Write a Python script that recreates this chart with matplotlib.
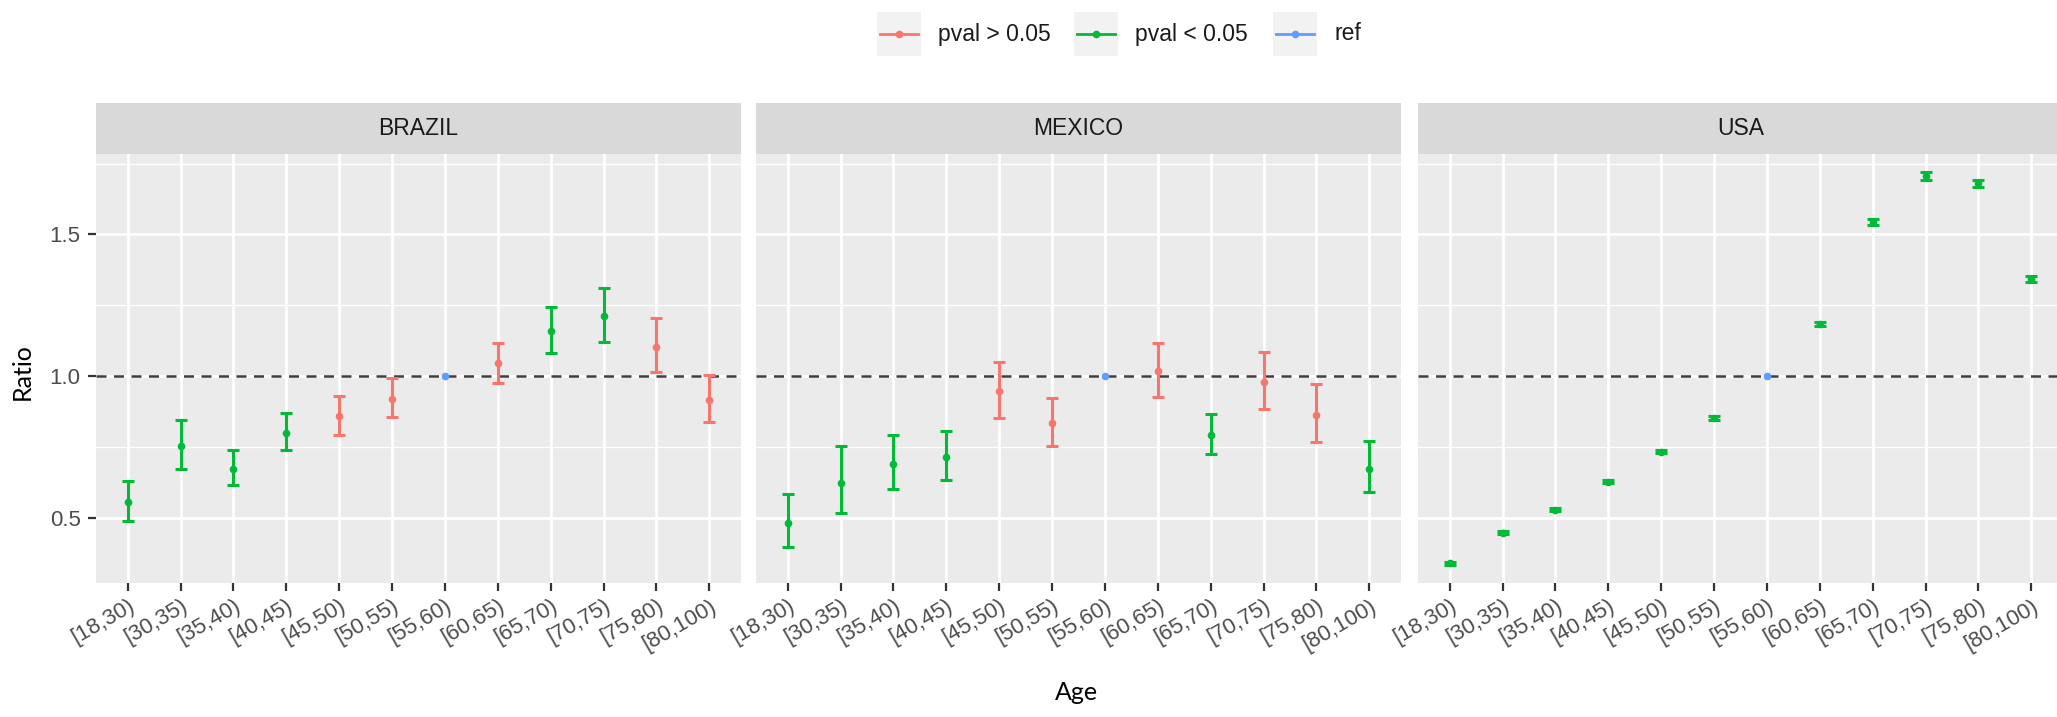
import numpy as np
import matplotlib
matplotlib.use('Agg')
import matplotlib.pyplot as plt
from matplotlib.patches import Rectangle
from matplotlib.ticker import MultipleLocator, FormatStrFormatter

plt.rcParams['font.family'] = ['Liberation Sans', 'DejaVu Sans']

# data
age_groups = ['[18,30)', '[30,35)', '[35,40)', '[40,45)', '[45,50)', '[50,55)',
              '[55,60)', '[60,65)', '[65,70)', '[70,75)', '[75,80)', '[80,100)']
countries = ['BRAZIL', 'MEXICO', 'USA']

brazil_ratio = [0.557, 0.752, 0.674, 0.798, 0.858, 0.918, 1.0, 1.046, 1.160, 1.213, 1.103, 0.915]
brazil_lower = [0.489, 0.674, 0.617, 0.738, 0.794, 0.855, 1.0, 0.975, 1.082, 1.121, 1.014, 0.837]
brazil_upper = [0.631, 0.844, 0.738, 0.869, 0.929, 0.993, 1.0, 1.117, 1.245, 1.312, 1.206, 1.004]
brazil_status = ['pval < 0.05'] * 4 + ['pval > 0.05'] * 2 + ['ref', 'pval > 0.05'] + \
                ['pval < 0.05'] * 2 + ['pval > 0.05'] * 2

mexico_ratio = [0.482, 0.624, 0.691, 0.716, 0.947, 0.833, 1.0, 1.018, 0.791, 0.979, 0.862, 0.674]
mexico_lower = [0.397, 0.518, 0.600, 0.635, 0.851, 0.755, 1.0, 0.926, 0.727, 0.883, 0.766, 0.592]
mexico_upper = [0.585, 0.752, 0.794, 0.805, 1.050, 0.922, 1.0, 1.117, 0.867, 1.085, 0.972, 0.770]
mexico_status = ['pval < 0.05'] * 4 + ['pval > 0.05'] * 2 + ['ref', 'pval > 0.05', 'pval < 0.05'] + \
                ['pval > 0.05'] * 2 + ['pval < 0.05']

usa_ratio = [0.340, 0.447, 0.528, 0.628, 0.734, 0.851, 1.0, 1.184, 1.543, 1.706, 1.681, 1.343]
usa_lower = [0.335, 0.442, 0.523, 0.622, 0.728, 0.844, 1.0, 1.176, 1.532, 1.693, 1.668, 1.332]
usa_upper = [0.345, 0.452, 0.533, 0.634, 0.740, 0.858, 1.0, 1.192, 1.554, 1.719, 1.694, 1.354]
usa_status = ['pval < 0.05'] * 6 + ['ref'] + ['pval < 0.05'] * 5

status_order = ['pval > 0.05', 'pval < 0.05', 'ref']
status_colors = ['#F8766D', '#00BA38', '#619CFF']

panels = [
    (brazil_ratio, brazil_lower, brazil_upper, brazil_status),
    (mexico_ratio, mexico_lower, mexico_upper, mexico_status),
    (usa_ratio, usa_lower, usa_upper, usa_status),
]

W, H = 2057, 717
fig = plt.figure(figsize=(W / 100, H / 100), dpi=100)

panel_left = [96, 756, 1418]
panel_w = 645
panel_top, panel_bot = 154, 583
strip_h = 51

x = np.arange(1, len(age_groups) + 1)

for i, (name, (ratio, lower, upper, status)) in enumerate(zip(countries, panels)):
    ax = fig.add_axes([panel_left[i] / W, 1 - panel_bot / H,
                       panel_w / W, (panel_bot - panel_top) / H])
    ax.set_facecolor('#EBEBEB')
    for s in ax.spines.values():
        s.set_visible(False)

    ax.set_xlim(0.4, 12.6)
    ax.set_ylim(0.27, 1.784)
    ax.set_xticks(x)
    ax.set_xticklabels(age_groups, rotation=30, ha='right', va='top',
                       rotation_mode='anchor')
    ax.yaxis.set_major_locator(MultipleLocator(0.5))
    ax.yaxis.set_minor_locator(MultipleLocator(0.25))
    ax.yaxis.set_major_formatter(FormatStrFormatter('%.1f'))
    ax.grid(which='major', color='white', lw=2.0, zorder=0)
    ax.grid(which='minor', axis='y', color='white', lw=1.0, zorder=0)
    ax.set_axisbelow(True)
    ax.tick_params(axis='both', which='major', colors='#333333', width=1.6,
                   labelcolor='#4D4D4D', labelsize=16)
    ax.tick_params(axis='x', length=6, pad=3)
    ax.tick_params(axis='y', length=6, pad=5)
    ax.tick_params(axis='y', which='minor', length=0)
    if i > 0:
        ax.tick_params(axis='y', labelleft=False, length=0)

    ax.axhline(1.0, color='#3F3F3F', lw=1.8, dashes=(4, 3), zorder=1.5)

    ratio = np.array(ratio)
    lower = np.array(lower)
    upper = np.array(upper)
    status = np.array(status)
    for st, col in zip(status_order, status_colors):
        m = status == st
        if not m.any():
            continue
        cap = 2 if st == 'ref' else 4
        ax.errorbar(x[m], ratio[m], yerr=[ratio[m] - lower[m], upper[m] - ratio[m]],
                    fmt='o', color=col, ms=4.5, elinewidth=2.2, capsize=cap,
                    capthick=2.2, zorder=3)

    # facet strip
    sh = strip_h / (panel_bot - panel_top)
    ax.add_patch(Rectangle((0, 1), 1, sh, transform=ax.transAxes,
                           facecolor='#D9D9D9', edgecolor='none', clip_on=False))
    ax.text(0.5, 1 + sh / 2, name, transform=ax.transAxes, ha='center',
            va='center', fontsize=16.5, color='#1A1A1A')

# axis titles
fig.text(22 / W, 1 - 372 / H, 'Ratio', rotation=90, ha='center', va='center',
         fontsize=18, family=['Lato', 'DejaVu Sans'], color='black')
fig.text(1076 / W, 1 - 693 / H, 'Age', ha='center', va='center',
         fontsize=18, family=['Lato', 'DejaVu Sans'], color='black')

# legend
key_x = [877, 1074, 1273]
label_x = [938, 1135, 1334]
for kx, lx, st, col in zip(key_x, label_x, status_order, status_colors):
    kax = fig.add_axes([kx / W, 1 - 56 / H, 44 / W, 44 / H])
    kax.set_facecolor('#F2F2F2')
    kax.set_xlim(0, 1)
    kax.set_ylim(0, 1)
    kax.plot([0.07, 0.93], [0.5, 0.5], color=col, lw=2.0)
    kax.plot([0.5], [0.5], 'o', color=col, ms=4.5)
    kax.set_xticks([])
    kax.set_yticks([])
    for s in kax.spines.values():
        s.set_visible(False)
    fig.text(lx / W, 1 - 34 / H, st, ha='left', va='center', fontsize=16.5,
             color='#1A1A1A')

fig.savefig('out.png', dpi=100)
